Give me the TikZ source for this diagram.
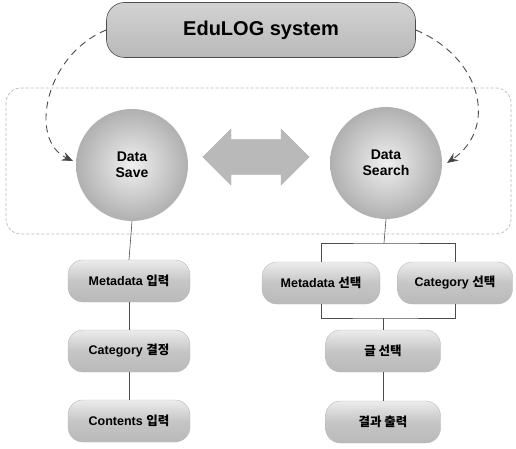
\documentclass[tikz,border=0pt]{standalone}
\usepackage{fontspec}
\setmainfont{Liberation Sans}
\newfontfamily\kr{Noto Sans CJK KR}
\usetikzlibrary{shapes.arrows,arrows.meta,shadings}
\begin{document}
\begin{tikzpicture}[x=1pt,y=-1pt,
  pill/.style={rounded corners=15pt, draw=gray!55, top color=gray!15, bottom color=gray!55, middle color=gray!45,
    minimum height=42pt, inner sep=2pt, text=black, font=\bfseries\fontsize{12.5}{14}\selectfont},
  ball/.style={circle, minimum size=112pt, inner color=gray!12, outer color=gray!62, draw=none,
    align=center, font=\bfseries\fontsize{14}{16}\selectfont, text=black},
  conn/.style={draw=gray!60!black, line width=0.6pt},
  dasharrow/.style={draw=gray!60!black, line width=0.9pt, dash pattern=on 7pt off 5pt,
    -{Stealth[length=11pt,width=9pt,fill=gray!50!black]}}
]
\useasboundingbox (0,0) rectangle (516,449);
\fill[white] (0,0) rectangle (516,449);

% frame
\draw[gray!55, line width=0.7pt, dash pattern=on 3pt off 2pt, rounded corners=15pt] (6,88) rectangle (511,234);

% top box
\node[rounded corners=18pt, draw=gray!60!black, line width=0.6pt, top color=gray!35, bottom color=gray!55,
  minimum width=309pt, minimum height=55pt, font=\bfseries\fontsize{20}{24}\selectfont] (top) at (261,30) {EduLOG system};

% balls
\node[ball] (dsave) at (132,165) {Data\\Save};
\node[ball] (dsearch) at (386,163) {Data\\Search};

% double arrow
\node[double arrow, fill=gray!55, draw=gray!60, inner xsep=0pt, inner ysep=17pt, minimum width=56pt,
  double arrow head extend=10pt, minimum height=106pt] (darr) at (256,157) {};

% curved dashed arrows
\coordinate (aL) at (73,161);
\coordinate (aR) at (447,163);
\draw[dasharrow] (top.west) .. controls (45,55) and (28,140) .. (aL);
\draw[dasharrow] (top.east) .. controls (482,58) and (498,128) .. (aR);

% left column
\node[pill, minimum width=122pt] (m1) at (129,281) {Metadata {\kr 입력}};
\node[pill, minimum width=122pt] (c1) at (129,351) {Category {\kr 결정}};
\node[pill, minimum width=122pt] (k1) at (129,421) {Contents {\kr 입력}};
\draw[conn] (dsave.south) -- (m1.north);
\draw[conn] (m1.south) -- (c1.north);
\draw[conn] (c1.south) -- (k1.north);

% right column
\node[pill, minimum width=118pt] (m2) at (321,283) {Metadata {\kr 선택}};
\node[pill, minimum width=115pt] (c2) at (455,283) {Category {\kr 선택}};
\node[pill, minimum width=115pt] (g) at (383,351) {{\kr 글 선택}};
\node[pill, minimum width=115pt] (r) at (383,422) {{\kr 결과 출력}};
\coordinate (rtop) at (384,243);
\coordinate (rbot) at (383,318);
\draw[conn] (dsearch.south) -- (rtop);
\draw[conn] (m2.north) |- (rtop) -| (c2.north);
\draw[conn] (m2.south) |- (rbot) -| (c2.south);
\draw[conn] (rbot) -- (g.north);
\draw[conn] (g.south) -- (r.north);
\end{tikzpicture}
\end{document}
